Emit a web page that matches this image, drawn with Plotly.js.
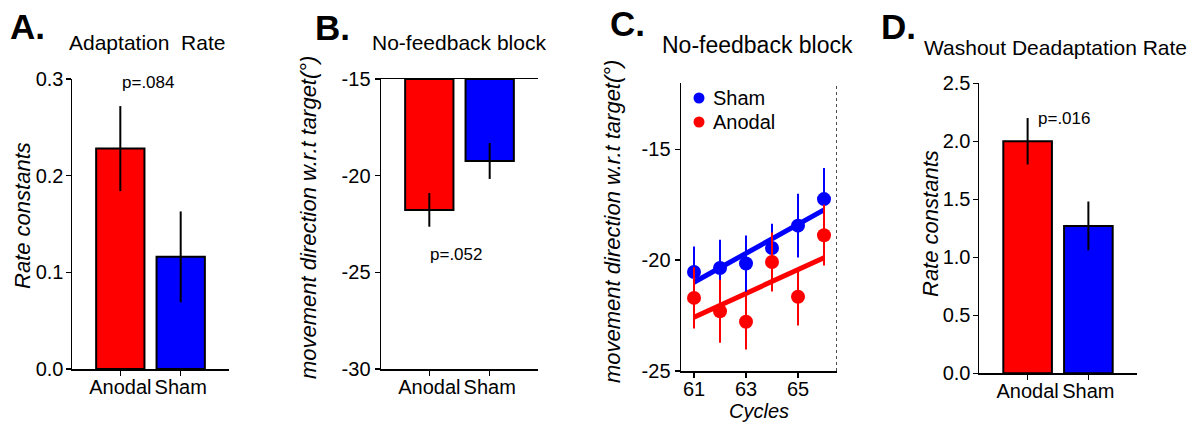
<!DOCTYPE html>
<html>
<head>
<meta charset="utf-8">
<script src="https://cdn.plot.ly/plotly-3.0.1.min.js"></script>
<style>
  html, body { margin: 0; padding: 0; background: #fff; }
  #fig { width: 1200px; height: 424px; }
</style>
</head>
<body>
<div id="fig"></div>
<script>
// Groups shown in the bar panels
const groups = ['Anodal', 'Sham'];

// A. Adaptation rate constants (mean, SEM)
const adaptRate = [0.228, 0.116];
const adaptSE = [0.044, 0.047];

// B. No-feedback block: movement direction (deg), mean and SEM
const noFbDir = [-21.77, -19.24];
const noFbSE = [0.87, 0.93];
const noFbBase = -15;

// C. No-feedback block per cycle
const cycles = [61, 62, 63, 64, 65, 66];
const shamDir = [-20.53, -20.35, -20.15, -19.45, -18.44, -17.24];
const shamDirSE = [1.15, 1.28, 1.27, 1.10, 1.44, 1.40];
const anodalDir = [-21.70, -22.30, -22.78, -20.08, -21.65, -18.87];
const anodalDirSE = [1.38, 1.42, 1.25, 1.33, 1.30, 1.37];

// D. Washout deadaptation rate constants (mean, SEM)
const washRate = [2.00, 1.27];
const washSE = [0.20, 0.21];

// p-values printed on the panels
const pLabels = ['p=.084', 'p=.052', 'p=.016'];

// tick values and their printed labels
const rateTicksA = [0, 0.1, 0.2, 0.3];
const rateLabelsA = ['0.0', '0.1', '0.2', '0.3'];
const dirTicksB = [-30, -25, -20, -15];
const dirLabelsB = ['-30', '-25', '-20', '-15'];
const dirTicksC = [-25, -20, -15];
const dirLabelsC = ['-25', '-20', '-15'];
const cycleTicks = [61, 63, 65];
const rateTicksD = [0, 0.5, 1, 1.5, 2, 2.5];
const rateLabelsD = ['0.0', '0.5', '1.0', '1.5', '2.0', '2.5'];

const RED = 'rgb(255,0,0)';
const BLUE = 'rgb(0,0,255)';
const FONT = 'Liberation Sans, Arial, sans-serif';
const W = 1200, H = 424;

// least-squares line through (x, y)
function linfit(x, y) {
  const n = x.length;
  const mx = x.reduce((a, b) => a + b, 0) / n;
  const my = y.reduce((a, b) => a + b, 0) / n;
  let sxy = 0, sxx = 0;
  for (let i = 0; i < n; i++) {
    sxy += (x[i] - mx) * (y[i] - my);
    sxx += (x[i] - mx) * (x[i] - mx);
  }
  const slope = sxy / sxx;
  return xv => my + slope * (xv - mx);
}

function barTrace(xa, ya, vals, se, base) {
  const t = {
    type: 'bar', x: groups, xaxis: xa, yaxis: ya,
    y: base === undefined ? vals : vals.map(v => v - base),
    width: 0.8,
    marker: { color: [RED, BLUE], line: { color: '#000', width: 2 } },
    error_y: { type: 'data', array: se, visible: true, color: '#000', thickness: 2, width: 0 },
    hoverinfo: 'skip'
  };
  if (base !== undefined) t.base = base;
  return t;
}

const xEnds = [cycles[0], cycles[cycles.length - 1]];
const shamFit = linfit(cycles, shamDir);
const anodalFit = linfit(cycles, anodalDir);

const traces = [
  barTrace('x', 'y', adaptRate, adaptSE),
  barTrace('x2', 'y2', noFbDir, noFbSE, noFbBase),
  {
    type: 'scatter', mode: 'lines', x: xEnds, y: xEnds.map(anodalFit),
    xaxis: 'x3', yaxis: 'y3', line: { color: RED, width: 5 }, hoverinfo: 'skip'
  },
  {
    type: 'scatter', mode: 'lines', x: xEnds, y: xEnds.map(shamFit),
    xaxis: 'x3', yaxis: 'y3', line: { color: BLUE, width: 5 }, hoverinfo: 'skip'
  },
  {
    type: 'scatter', mode: 'markers', name: 'Sham', x: cycles, y: shamDir,
    xaxis: 'x3', yaxis: 'y3',
    marker: { color: BLUE, size: 14 },
    error_y: { type: 'data', array: shamDirSE, visible: true, color: BLUE, thickness: 2, width: 0 }
  },
  {
    type: 'scatter', mode: 'markers', name: 'Anodal', x: cycles, y: anodalDir,
    xaxis: 'x3', yaxis: 'y3',
    marker: { color: RED, size: 14 },
    error_y: { type: 'data', array: anodalDirSE, visible: true, color: RED, thickness: 2, width: 0 }
  },
  barTrace('x4', 'y4', washRate, washSE)
];

// pixel box -> paper domain helpers
const dx = (a, b) => [a / W, b / W];
const dy = (top, bottom) => [1 - bottom / H, 1 - top / H];

const axisBase = {
  showline: true, linecolor: '#000', linewidth: 1.5,
  ticks: 'outside', ticklen: 5, tickwidth: 1.5, tickcolor: '#000',
  showgrid: false, zeroline: false, fixedrange: true,
  tickfont: { family: FONT, size: 20, color: '#000' }
};
const catAxis = (dom, anchor, extra) => Object.assign({}, axisBase, {
  type: 'category', domain: dom, anchor: anchor, range: [-0.8, 1.8], ticklabelstandoff: -6
}, extra || {});
const valAxis = (dom, anchor, extra) => Object.assign({}, axisBase, {
  domain: dom, anchor: anchor
}, extra || {});

const ann = (text, x, y, opts) => Object.assign({
  text: text, x: x / W, y: 1 - y / H, xref: 'paper', yref: 'paper',
  showarrow: false, xanchor: 'left', yanchor: 'middle',
  font: { family: FONT, size: 21, color: '#000' }
}, opts || {});
const letter = (t, x, y) => ann('<b>' + t + '</b>', x, y, { font: { family: FONT, size: 35, color: '#000' } });
const yTitle = (t, x, y) => ann('<i>' + t + '</i>', x, y, {
  xanchor: 'center', textangle: -90, font: { family: FONT, size: 22, color: '#000' }
});
// key swatch for panel C
const keyDot = (color, x, y) => ({
  type: 'circle', xref: 'paper', yref: 'paper',
  x0: (x - 5.5) / W, x1: (x + 5.5) / W, y0: 1 - (y + 5.5) / H, y1: 1 - (y - 5.5) / H,
  fillcolor: color, line: { width: 0 }
});

const dirTitle = 'movement direction w.r.t target(°)';

const layout = {
  width: W, height: H,
  margin: { l: 0, r: 0, t: 0, b: 0 },
  paper_bgcolor: '#fff', plot_bgcolor: 'rgba(0,0,0,0)',
  font: { family: FONT, color: '#000' },
  showlegend: false,
  bargap: 0,

  xaxis: catAxis(dx(72, 229), 'y'),
  yaxis: valAxis(dy(79, 369), 'x', { range: [0, 0.3], tickvals: rateTicksA, ticktext: rateLabelsA, ticklabelstandoff: -2 }),

  xaxis2: catAxis(dx(381, 538), 'y2', { mirror: true }),
  yaxis2: valAxis(dy(79, 369), 'x2', { range: [-30, -15], tickvals: dirTicksB, ticktext: dirLabelsB }),

  xaxis3: valAxis(dx(681, 837), 'y3', { range: [60.5, 66.5], tickvals: cycleTicks, ticklabelstandoff: -6 }),
  yaxis3: valAxis(dy(83, 371), 'x3', { range: [-25, -12], tickvals: dirTicksC, ticktext: dirLabelsC }),

  xaxis4: catAxis(dx(979, 1137), 'y4'),
  yaxis4: valAxis(dy(83.3, 373.3), 'x4', { range: [0, 2.5], tickvals: rateTicksD, ticktext: rateLabelsD, ticklabelstandoff: -2 }),

  shapes: [
    // dotted right boundary of panel C
    { type: 'line', xref: 'x3', yref: 'y3 domain', x0: 66.5, x1: 66.5, y0: 0, y1: 1,
      line: { color: '#000', width: 1.4, dash: 'dot' } },
    keyDot(BLUE, 699, 98),
    keyDot(RED, 699, 122)
  ],

  annotations: [
    letter('A.', 8, 27),
    ann('Adaptation\u00a0 Rate', 67, 43),
    yTitle('Rate constants', 22, 216),
    { text: pLabels[0], xref: 'x', yref: 'y', x: 0.46, y: 0.296, showarrow: false,
      xanchor: 'center', yanchor: 'middle', font: { family: FONT, size: 17, color: '#000' } },

    letter('B.', 313, 28),
    ann('No-feedback block', 370, 43),
    yTitle(dirTitle, 308, 218),
    { text: pLabels[1], xref: 'x2', yref: 'y2', x: 0.45, y: -24.1, showarrow: false,
      xanchor: 'center', yanchor: 'middle', font: { family: FONT, size: 17, color: '#000' } },

    letter('C.', 608, 24),
    ann('No-feedback block', 660, 45, { font: { family: FONT, size: 23, color: '#000' } }),
    yTitle(dirTitle, 612, 222),
    ann('<i>Cycles</i>', 759, 411, { xanchor: 'center', font: { family: FONT, size: 20, color: '#000' } }),
    ann('Sham', 711, 98, { font: { family: FONT, size: 20, color: '#000' } }),
    ann('Anodal', 711, 122, { font: { family: FONT, size: 20, color: '#000' } }),

    letter('D.', 879, 26),
    ann('Washout Deadaptation Rate', 922, 47),
    yTitle('Rate constants', 930, 224),
    { text: pLabels[2], xref: 'x4', yref: 'y4', x: 0.14, y: 2.2, showarrow: false,
      xanchor: 'left', yanchor: 'middle', font: { family: FONT, size: 17, color: '#000' } }
  ]
};

Plotly.newPlot('fig', traces, layout, { staticPlot: true, displayModeBar: false });
</script>
</body>
</html>
